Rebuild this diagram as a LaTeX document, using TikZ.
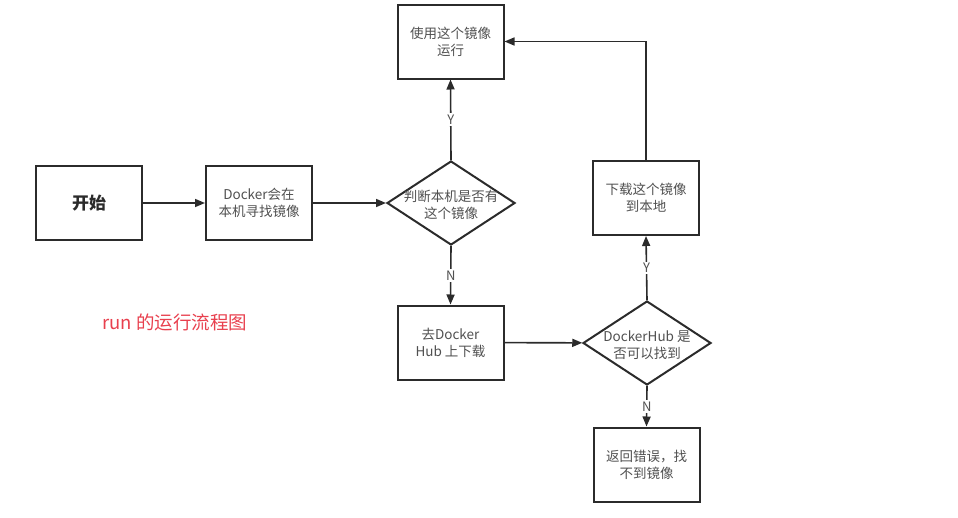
\documentclass[tikz,border=0pt]{standalone}
\usepackage{fontspec}
\setmainfont{Noto Sans CJK SC}
\usetikzlibrary{arrows.meta,shapes.geometric}
\definecolor{linec}{HTML}{2B2B2B}
\definecolor{txtc}{HTML}{505050}
\definecolor{redc}{HTML}{E8404E}
\newcommand{\ztext}[1]{\smash{\makebox[0pt]{\raisebox{-7pt}{\begin{tabular}{@{}c@{}}#1\end{tabular}}}}}
\begin{document}
\begin{tikzpicture}[x=1pt,y=-1pt,
  box/.style={draw=linec,line width=2pt,minimum width=106pt,minimum height=74pt,inner sep=0pt,align=center,font=\fontsize{13.5}{17}\selectfont,text=txtc},
  dia/.style={draw=linec,line width=2pt,diamond,minimum width=128pt,minimum height=84pt,inner sep=0pt,font=\fontsize{13.5}{17}\selectfont,text=txtc},
  conn/.style={draw=linec,line width=1.6pt,-{Triangle[length=10pt,width=8pt]}},
  lab/.style={fill=white,inner sep=1.5pt,font=\fontsize{13}{15}\selectfont,text=txtc}]
\useasboundingbox (0,0) rectangle (958,517);
\node[box,font=\bfseries\fontsize{17}{20}\selectfont,text=linec] (start) at (89,203) {开始};
\node[box] (find) at (259,203) {Docker会在\\本机寻找镜像};
\node[dia] (has) at (451,203) {\ztext{判断本机是否有\\这个镜像}};
\node[box] (use) at (450.5,41.5) {使用这个镜像\\运行};
\node[box] (hub) at (450.5,342.5) {去Docker\\Hub 上下载};
\node[dia] (can) at (647,343) {\ztext{DockerHub 是\\否可以找到}};
\node[box] (dl) at (646,198) {下载这个镜像\\到本地};
\node[box] (err) at (646.5,464.5) {返回错误，找\\不到镜像};
\node[text=redc,font=\fontsize{18.5}{20}\selectfont] (title) at (175,322) {run 的运行流程图};
\draw[conn] (start) -- (find);
\draw[conn] (find) -- (has);
\draw[conn] (has.north) -- node[lab] {Y} (use.south);
\draw[conn] (has.south) -- node[lab] {N} (hub.north);
\draw[conn] (hub) -- (can);
\draw[conn] (can.north) -- node[lab] {Y} (dl.south);
\draw[conn] (can.south) -- node[lab] {N} (err.north);
\draw[conn] (dl.north) |- (use.east);
\end{tikzpicture}
\end{document}
